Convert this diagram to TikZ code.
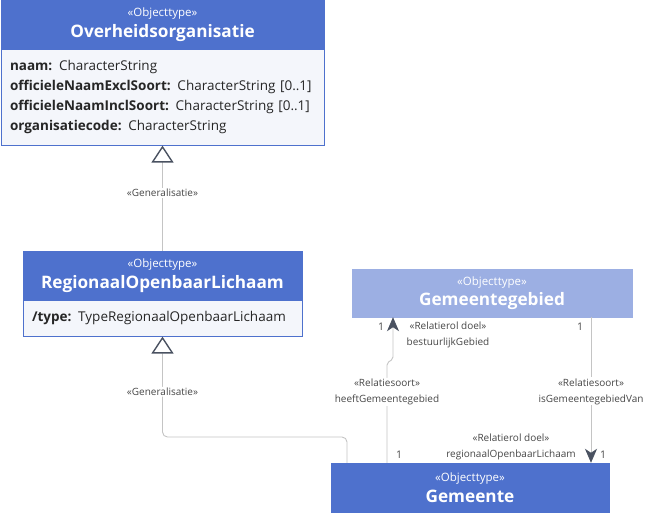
\documentclass[tikz,border=0pt]{standalone}
\usepackage{fontspec}
\setmainfont{Open Sans}
\usetikzlibrary{positioning,arrows.meta}

\definecolor{hdrblue}{HTML}{4E71CD}
\definecolor{hdrlight}{HTML}{9CAFE3}
\definecolor{bodyfill}{HTML}{F4F6FB}
\definecolor{linegray}{HTML}{C4C4C4}
\definecolor{tipgray}{HTML}{4A5261}
\definecolor{lblgray}{HTML}{474747}

\tikzset{
  classhdr/.style={draw=hdrblue, fill=hdrblue, text=white, align=center,
    inner sep=0pt, minimum height=49, font=\fontsize{17.2}{20.5}\selectfont},
  classbody/.style={draw=hdrblue, fill=bodyfill, align=left, inner xsep=9,
    inner ysep=0, text=black!85, font=\fontsize{13.5}{20}\selectfont},
  conn/.style={linegray, line width=0.9},
  gen/.style={conn, -{Triangle[open, length=17, width=22, line width=1.4, color=tipgray]}},
  assoc/.style={conn, -{Stealth[length=14, width=12, inset=4, color=tipgray]}},
  lbl/.style={font=\fontsize{10}{16}\selectfont, text=lblgray, align=center,
    fill=white, inner sep=1},
  mult/.style={font=\fontsize{10.5}{12}\selectfont, text=lblgray, inner sep=0},
}

\newcommand{\stereotype}{{\fontsize{11.5}{12}\selectfont «Objecttype»}}

\begin{document}
\begin{tikzpicture}[x=1pt, y=-1pt]

\useasboundingbox (0,0) rectangle (651,512);

%--- Klassen ---
\node[classhdr, minimum width=323] (ovh) at (162.5,24.5)
  {\stereotype\\\textbf{Overheidsorganisatie}};
\node[classbody, text width=305, minimum height=96, below=0pt of ovh] (ovhb)
  {\textbf{naam:} CharacterString\\
   \textbf{officieleNaamExclSoort:} CharacterString [0..1]\\
   \textbf{officieleNaamInclSoort:} CharacterString [0..1]\\
   \textbf{organisatiecode:} CharacterString};

\node[classhdr, minimum width=279] (rol) at (162.5,275.5)
  {\stereotype\\\textbf{RegionaalOpenbaarLichaam}};
\node[classbody, text width=261, minimum height=36, below=0pt of rol] (rolb)
  {\textbf{/type:} TypeRegionaalOpenbaarLichaam};

\node[classhdr, draw=hdrlight, fill=hdrlight, minimum width=280, minimum height=48] (gg)
  at (492,293) {\stereotype\\\textbf{Gemeentegebied}};

\node[classhdr, minimum width=278] (gem) at (470,487.5)
  {\stereotype\\\textbf{Gemeente}};

%--- Generalisaties ---
\draw[gen] (rol.north) -- node[lbl, pos=0.55]{«Generalisatie»} (ovhb.south);

\coordinate (bend) at (347,437);
\draw[gen, rounded corners=5] (gem.north -| bend) -- (bend) -- (bend -| rolb.south)
  -- node[lbl, pos=0.45]{«Generalisatie»} (rolb.south);

%--- Relaties ---
\coordinate (jog) at (387,363);
\coordinate (jogb) at (393,359);
\draw[assoc, rounded corners=2] (gem.north -| jog)
  -- node[lbl, pos=0.71]{«Relatiesoort»\\heeftGemeentegebied} (jog)
  -- (jogb) -- (gg.south -| jogb);

\coordinate (isx) at (591,0);
\draw[assoc] (gg.south -| isx)
  -- node[lbl, pos=0.51]{«Relatiesoort»\\isGemeentegebiedVan} (gem.north -| isx);

%--- Rollen ---
\node[lbl] (rolbg) at (448,335) {«Relatierol doel»\\bestuurlijkGebied};
\node[lbl] (rolrol) at (511,447) {«Relatierol doel»\\regionaalOpenbaarLichaam};

%--- Multipliciteiten ---
\foreach \nm/\px/\py in {m1/381/327, m2/580/327, m3/399/455, m4/603/455}
  \node[mult] (\nm) at (\px,\py) {1};

\end{tikzpicture}
\end{document}
